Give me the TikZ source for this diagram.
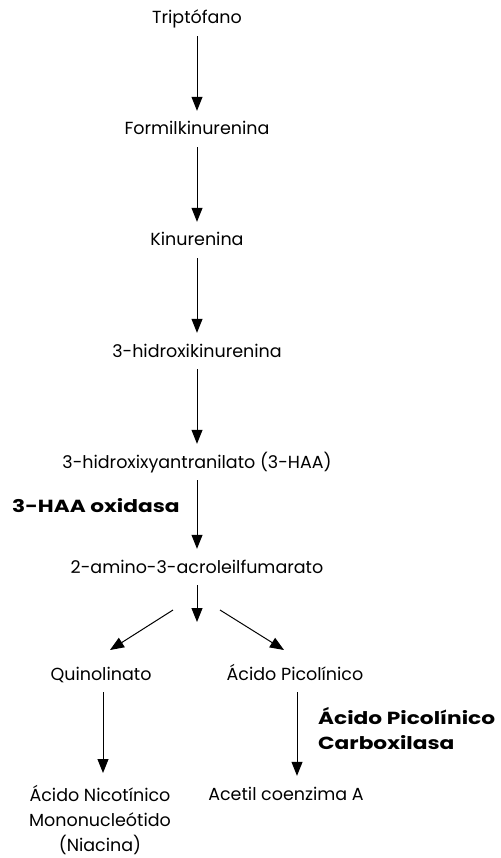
\documentclass[tikz,border=0pt]{standalone}
\usepackage{fontspec}
\setmainfont{Poppins}
\newfontfamily\enzfont[FakeStretch=1.24]{Poppins}
\usetikzlibrary{arrows.meta}
\begin{document}
\begin{tikzpicture}[x=1pt,y=-1pt,
  lbl/.style={inner sep=0pt, anchor=base, text height=12pt, text depth=3pt, font=\fontsize{17.5}{25}\selectfont},
  multi/.style={inner sep=0pt, align=center, anchor=north, font=\fontsize{17.5}{25}\selectfont},
  enz/.style={inner sep=0pt, align=left, font=\fontsize{17.5}{25}\selectfont\enzfont\bfseries},
  arr/.style={-{Triangle[length=14pt,width=11pt]}, line width=1pt, shorten <=9pt, shorten >=12pt},
  darr/.style={-{Triangle[length=14pt,width=11pt]}, line width=1pt}]
\useasboundingbox (0,0) rectangle (500,858);
\node[lbl] (t)  at (197,24)  {Triptófano};
\node[lbl] (f)  at (197,135) {Formilkinurenina};
\node[lbl] (k)  at (197,246) {Kinurenina};
\node[lbl] (hk) at (197,357) {3-hidroxikinurenina};
\node[lbl] (ha) at (197,468) {3-hidroxixyantranilato (3-HAA)};
\node[lbl] (am) at (197,573) {2-amino-3-acroleilfumarato};
\node[lbl] (q)  at (101,680) {Quinolinato};
\node[lbl] (ap) at (295,680) {Ácido Picolínico};
\node[multi] (an) at (100,785) {Ácido Nicotínico\\Mononucleótido\\(Niacina)};
\node[lbl] (ac) at (286,800) {Acetil coenzima A};
\node[enz, anchor=base west] (e1) at (12,512) {3-HAA oxidasa};
\node[enz, anchor=north west] (e2) at (318,707) {Ácido Picolínico\\Carboxilasa};
\coordinate (mid) at (197,622);
\coordinate (dl0) at (173,610);
\coordinate (dl1) at (110,650);
\coordinate (dr0) at (220,610);
\coordinate (dr1) at (284,650);
\draw[arr] (t) -- (f);
\draw[arr] (f) -- (k);
\draw[arr] (k) -- (hk);
\draw[arr] (hk) -- (ha);
\draw[arr] (ha) -- (am);
\draw[arr, shorten >=0pt] (am) -- (mid);
\draw[darr] (dl0) -- (dl1);
\draw[darr] (dr0) -- (dr1);
\draw[arr] ([xshift=2pt]q.south) -- ([xshift=2pt]q.south |- an.north);
\draw[arr] ([xshift=2pt]ap.south) -- ([xshift=2pt]ap.south |- ac.north);
\end{tikzpicture}
\end{document}
